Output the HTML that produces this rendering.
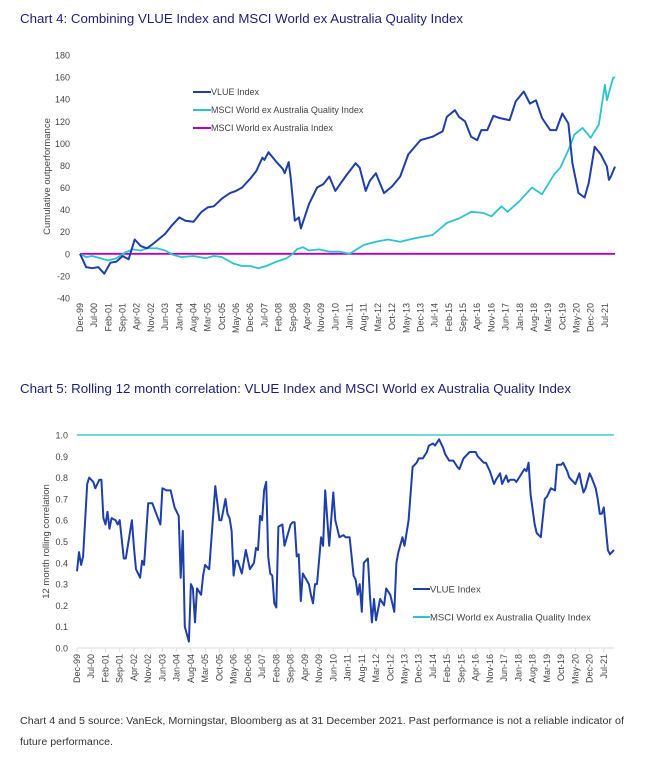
<!DOCTYPE html>
<html><head><meta charset="utf-8"><style>
html,body{margin:0;padding:0;background:#fff;}
svg{display:block;font-family:"Liberation Sans",Arial,sans-serif;}
</style></head><body>
<svg id="root" width="646" height="768" viewBox="0 0 646 768" xmlns="http://www.w3.org/2000/svg">
<text x="20" y="23" font-size="12.5" fill="#1c1f78" textLength="443" lengthAdjust="spacingAndGlyphs">Chart 4: Combining VLUE Index and MSCI World ex Australia Quality Index</text>
<g id="c4"></g>
<text x="20" y="393" font-size="12.5" fill="#1c1f78" textLength="551" lengthAdjust="spacingAndGlyphs">Chart 5: Rolling 12 month correlation: VLUE Index and MSCI World ex Australia Quality Index</text>
<g id="c5"></g>
<text x="20" y="724" font-size="10" fill="#333" textLength="604" lengthAdjust="spacingAndGlyphs">Chart 4 and 5 source: VanEck, Morningstar, Bloomberg as at 31 December 2021. Past performance is not a reliable indicator of</text>
<text x="20" y="745" font-size="10" fill="#333" textLength="93" lengthAdjust="spacingAndGlyphs">future performance.</text>
</svg>
<script>
// ---- shared data ----
const xTickLabels = ["Dec-99","Jul-00","Feb-01","Sep-01","Apr-02","Nov-02","Jun-03","Jan-04","Aug-04","Mar-05","Oct-05","May-06","Dec-06","Jul-07","Feb-08","Sep-08","Apr-09","Nov-09","Jun-10","Jan-11","Aug-11","Mar-12","Oct-12","May-13","Dec-13","Jul-14","Feb-15","Sep-15","Apr-16","Nov-16","Jun-17","Jan-18","Aug-18","Mar-19","Oct-19","May-20","Dec-20","Jul-21"];
// chart 4 data (month index from Dec-99, value)
const c4VlueMonths = [0,3,6,9,12,15,18,21,24,27,30,33,36,42,45,49,52,56,60,63,66,70,74,77,80,84,87,90,91,93,97,100,101,103,104,106,108,109,113,117,120,123,126,131,136,138,141,143,146,148,150,154,158,162,168,174,179,181,185,187,190,193,196,198,201,204,207,212,215,219,222,225,228,232,235,238,241,243,246,249,251,254,257,260,261,262,264];
const c4VlueValues = [0,-12,-13,-12,-18,-8,-7,-2,-5,13,7,5,9,18,25,33,30,29,38,42,43,50,55,57,60,68,75,87,85,92,83,77,73,83,68,30,33,23,45,60,63,70,57,70,82,78,57,66,73,64,55,61,70,90,103,106,111,124,130,124,120,106,103,112,112,125,123,121,138,147,136,139,123,112,112,127,118,82,55,51,64,97,90,79,67,70,79];
const c4QualMonths = [0,3,6,10,14,18,22,26,30,33,38,42,46,50,56,62,66,70,76,80,84,88,92,97,102,105,107,110,113,118,123,128,133,140,146,152,158,165,174,181,187,193,199,203,208,211,217,223,228,234,237,241,244,248,252,256,259,260,263,264];
const c4QualValues = [0,-3,-2,-4,-6,-4,1,4,3,5,5,3,-1,-3,-2,-4,-2,-3,-9,-11,-11,-13,-11,-7,-4,0,4,6,3,4,2,2,0,8,11,13,11,14,17,28,32,38,37,34,43,38,48,60,54,72,78,94,108,114,105,117,153,139,159,160];
const c4YTicks = [180,160,140,120,100,80,60,40,20,0,-20,-40];
const c4Legend = ["VLUE Index","MSCI World ex Australia Quality Index","MSCI World ex Australia Index"];
// chart 5 data
const c5Months = [0,1,2,3,5,6,8,9,11,12,13,14,15,16,17,19,20,21,23,24,27,28,29,31,32,33,35,37,39,41,42,44,46,48,50,51,52,53,55,56,57,58,59,61,62,63,65,68,69,70,71,73,74,75,76,77,78,79,81,83,85,87,88,89,90,91,92,93,94,95,96,97,98,99,101,102,105,106,107,108,109,110,111,114,115,116,117,118,120,121,122,124,126,127,129,131,132,134,136,137,138,139,140,141,143,144,145,146,147,149,151,152,154,156,157,158,160,161,163,165,167,168,170,172,173,175,176,178,180,181,183,185,187,188,190,193,196,197,200,201,202,203,205,206,208,209,211,212,213,215,216,218,220,221,222,223,225,226,228,230,231,233,235,236,238,239,241,242,245,247,248,249,250,252,253,255,256,257,258,259,261,262,264];
const c5Values = [.36,.45,.39,.43,.77,.80,.78,.75,.79,.79,.61,.58,.64,.56,.61,.60,.58,.60,.42,.42,.60,.47,.37,.33,.41,.39,.68,.68,.63,.58,.75,.74,.74,.66,.62,.33,.55,.10,.03,.30,.28,.12,.28,.25,.34,.39,.37,.76,.68,.60,.60,.70,.63,.61,.55,.34,.41,.41,.35,.46,.37,.40,.47,.46,.62,.60,.74,.78,.43,.35,.34,.21,.19,.57,.58,.48,.58,.59,.59,.43,.44,.22,.35,.30,.25,.21,.30,.30,.52,.48,.74,.48,.73,.60,.52,.53,.52,.52,.34,.32,.25,.30,.17,.40,.42,.25,.12,.23,.13,.23,.20,.28,.25,.17,.40,.45,.52,.48,.60,.85,.87,.89,.89,.92,.95,.96,.95,.98,.94,.91,.88,.88,.85,.84,.89,.92,.92,.90,.87,.87,.85,.83,.77,.79,.82,.77,.81,.78,.79,.79,.78,.81,.84,.83,.87,.72,.58,.54,.52,.70,.71,.75,.74,.86,.86,.87,.83,.80,.77,.82,.77,.73,.75,.82,.80,.75,.70,.63,.63,.66,.46,.44,.46,.30,.15];
const c5QualValue = 1.0;
const c5YTicks = [1.0,0.9,0.8,0.7,0.6,0.5,0.4,0.3,0.2,0.1,0.0];
const c5Legend = ["VLUE Index","MSCI World ex Australia Quality Index"];

const NS="http://www.w3.org/2000/svg";
function mk(parent,tag,attrs,text){const e=document.createElementNS(NS,tag);for(const k in attrs)e.setAttribute(k,attrs[k]);if(text!==undefined)e.textContent=text;parent.appendChild(e);return e;}
const LAST=264;

// ---- chart 4 ----
(function(){
 const g=document.getElementById('c4');
 const x0=80,x1=615,yTop=55,yBot=298,vMax=180,vMin=-40;
 const X=m=>x0+(x1-x0)*m/LAST, Y=v=>yTop+(vMax-v)*(yBot-yTop)/(vMax-vMin);
 c4YTicks.forEach(t=>{const e=mk(g,'text',{x:70,y:Y(t)+3.5,'font-size':9,fill:'#444','text-anchor':'end'},String(t));
  
  });
 const yt=mk(g,'text',{x:0,y:0,'font-size':9.5,fill:'#444','text-anchor':'middle',transform:`translate(50,${Y(70)}) rotate(-90)`},'Cumulative outperformance');
 
 
 xTickLabels.forEach((l,i)=>{const m=i*7;const e=mk(g,'text',{x:0,y:0,'font-size':9,fill:'#444','text-anchor':'end',transform:`translate(${X(m)+3},${yBot+5}) rotate(-90)`},l);
  
  });
 const zl=mk(g,'line',{x1:X(0),x2:X(LAST),y1:Y(0),y2:Y(0),stroke:'#b400c8','stroke-width':1.8});
 
 
 const pts=(ms,vs)=>ms.map((m,i)=>X(m).toFixed(1)+','+Y(vs[i]).toFixed(1)).join(' ');
 const q=mk(g,'polyline',{points:pts(c4QualMonths,c4QualValues),fill:'none',stroke:'#2cc4cc','stroke-width':1.8,'stroke-linejoin':'round'});
 
 
 const v=mk(g,'polyline',{points:pts(c4VlueMonths,c4VlueValues),fill:'none',stroke:'#1f3fa8','stroke-width':2,'stroke-linejoin':'round'});
 
 
 const cols=['#1f3fa8','#2cc4cc','#b400c8'];
 c4Legend.forEach((l,i)=>{const yy=92+i*18;
  const ln=mk(g,'line',{x1:193,x2:211,y1:yy,y2:yy,stroke:cols[i],'stroke-width':2});
  
  
  const t=mk(g,'text',{x:211,y:yy+3,'font-size':9,fill:'#444'},l);
  
  });
})();

// ---- chart 5 ----
(function(){
 const g=document.getElementById('c5');
 const x0=77,x1=614,yTop=435,yBot=648;
 const X=m=>x0+(x1-x0)*m/LAST, Y=v=>yBot-(yBot-yTop)*v;
 c5YTicks.forEach(t=>{const e=mk(g,'text',{x:68,y:Y(t)+3.5,'font-size':9,fill:'#444','text-anchor':'end'},t.toFixed(1));
  
  });
 const yt=mk(g,'text',{x:0,y:0,'font-size':9.5,fill:'#444','text-anchor':'middle',transform:`translate(49,${Y(0.5)}) rotate(-90)`},'12 month rolling correlation');
 
 
 const ax=mk(g,'line',{x1:X(0),x2:X(LAST),y1:yBot,y2:yBot,stroke:'#ddd','stroke-width':1});
 
 
 xTickLabels.forEach((l,i)=>{const m=i*7;
  const tk=mk(g,'line',{x1:X(m),x2:X(m),y1:yBot,y2:yBot+4,stroke:'#ddd'});
  
  
  const e=mk(g,'text',{x:0,y:0,'font-size':9,fill:'#444','text-anchor':'end',transform:`translate(${X(m)+3},${yBot+6}) rotate(-90)`},l);
  
  });
 const q=mk(g,'line',{x1:X(0),x2:X(LAST),y1:Y(c5QualValue),y2:Y(c5QualValue),stroke:'#5fd0d6','stroke-width':1.8});
 
 
 const v=mk(g,'polyline',{points:c5Months.map((m,i)=>X(m).toFixed(1)+','+Y(c5Values[i]).toFixed(1)).join(' '),fill:'none',stroke:'#1f3fa8','stroke-width':2,'stroke-linejoin':'round'});
 
 
 const cols=['#1f3fa8','#2cc4cc'];
 c5Legend.forEach((l,i)=>{const yy=589+i*28;
  const ln=mk(g,'line',{x1:413,x2:430,y1:yy,y2:yy,stroke:cols[i],'stroke-width':2});
  
  
  const t=mk(g,'text',{x:430,y:yy+3.5,'font-size':9.5,fill:'#444'},l);
  
  });
})();
</script>
</body></html>
